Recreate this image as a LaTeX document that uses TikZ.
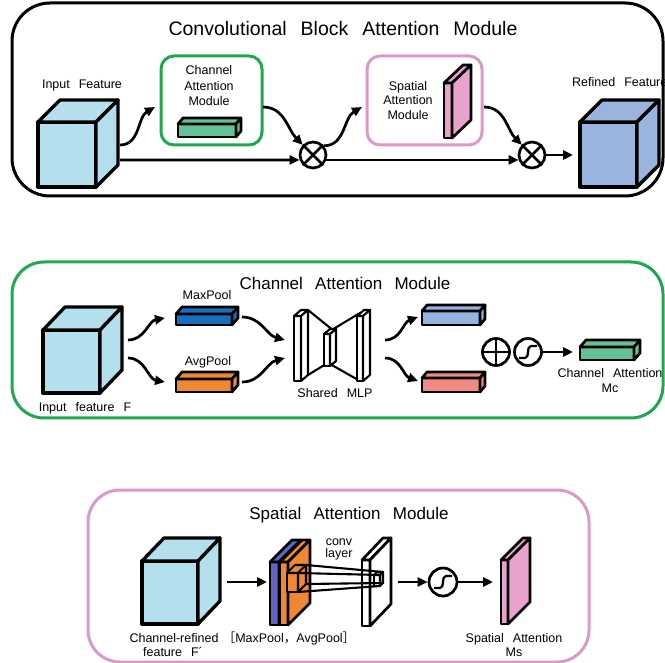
\documentclass[tikz,border=0pt]{standalone}
\usepackage{fontspec}
\setmainfont{Liberation Sans}
\newfontfamily\cjk{Noto Sans CJK SC}
\usetikzlibrary{arrows.meta}

\definecolor{cubecyan}{HTML}{B3E0EC}
\definecolor{refblue}{HTML}{99B5DE}
\definecolor{camgreen}{HTML}{1FA84F}
\definecolor{bargreen}{HTML}{64C396}
\definecolor{sampink}{HTML}{DE98C8}
\definecolor{pinkfill}{HTML}{E8A2CC}
\definecolor{maxblue}{HTML}{1670BE}
\definecolor{avgorange}{HTML}{EE8833}
\definecolor{lightblue}{HTML}{93B4DF}
\definecolor{salmon}{HTML}{EF8A85}
\definecolor{slate}{HTML}{6262C2}

% wide word gap used in all labels
\newcommand\ws{\hspace{0.72em}}

% box in cabinet view: front face (x1,y1)-(x2,y2), depth offset (dx,dy)
\newcommand\drawprism[8][]{%
  \filldraw[fill=#2,#1] (#3,#4) rectangle (#5,#6);
  \filldraw[fill=#2,#1] (#3,#4) -- ({#3+#7},{#4-#8}) -- ({#5+#7},{#4-#8}) -- (#5,#4) -- cycle;
  \filldraw[fill=#2,#1] (#5,#4) -- ({#5+#7},{#4-#8}) -- ({#5+#7},{#6-#8}) -- (#5,#6) -- cycle;
}
% sigmoid glyph inside a circle node
\newcommand\sigmark[1]{%
  \draw[line width=2.3pt] ([shift={(-9,6)}]#1.center) -- ([shift={(-3,6)}]#1.center)
    .. controls ([shift={(2,6)}]#1.center) and ([shift={(-2,-6)}]#1.center) ..
    ([shift={(3,-6)}]#1.center) -- ([shift={(9,-6)}]#1.center);}
\newcommand\timesmark[1]{%
  \draw[line width=2.6pt] (#1.45) -- (#1.225) (#1.135) -- (#1.315);}
\newcommand\plusmark[1]{%
  \draw[line width=2.6pt] (#1.north) -- (#1.south) (#1.west) -- (#1.east);}

\tikzset{
  lbl/.style={font=\fontsize{12.5}{15}\selectfont, inner sep=0, anchor=base},
  ttl/.style={font=\fontsize{17}{20}\selectfont, inner sep=0, anchor=base},
  bigttl/.style={font=\fontsize{19.5}{23}\selectfont, inner sep=0, anchor=base},
  arr/.style={line width=2.7pt, -{Triangle[length=10pt,width=9pt]}},
  opnode/.style={circle, draw, line width=2.7pt, minimum size=26pt, inner sep=0},
  panel/.style={line width=3pt, rounded corners=34pt},
  modbox/.style={line width=3pt, rounded corners=13pt},
  cubeline/.style={line width=3.3pt},
  barline/.style={line width=2.7pt},
  thinline/.style={line width=2.1pt},
}

\begin{document}
\begin{tikzpicture}[x=1pt, y=-1pt, line join=round]
\useasboundingbox (0,0) rectangle (665,663);

%% ---------------- Convolutional Block Attention Module ----------------
\draw[panel, rounded corners=38pt] (12,3) rectangle (663,196);
\node[bigttl] (cbamTitle) at (343,36) {Convolutional\ws Block\ws Attention\ws Module};

\drawprism[cubeline]{cubecyan}{38}{122}{96}{187}{22}{22}
\node[lbl] (inLbl) at (82,89) {Input\ws Feature};

\draw[modbox, draw=camgreen] (161,56) rectangle (262,145);
\node[lbl] (camL1) at (209,75) {Channel};
\node[lbl] (camL2) at (209,91) {Attention};
\node[lbl] (camL3) at (209,106) {Module};
\drawprism[barline]{bargreen}{178}{124}{236}{137}{5}{6}

\draw[modbox, draw=sampink] (367,56) rectangle (482,145);
\node[lbl] (samL1) at (408,91) {Spatial};
\node[lbl] (samL2) at (408,105) {Attention};
\node[lbl] (samL3) at (408,120) {Module};
\drawprism[barline]{pinkfill}{444}{83}{452}{138}{19}{18}

\drawprism[cubeline]{refblue}{580}{122}{637}{187}{22}{22}
\node[lbl, anchor=base west] (refLbl) at (572,87) {Refined\ws Feature};

\node[opnode] (m1) at (313,155) {};
\timesmark{m1}
\node[opnode] (m2) at (532,155) {};
\timesmark{m2}

\coordinate (inA) at (120,145);
\coordinate (inB) at (120,160);
\coordinate (camIn) at (155,107);
\coordinate (camOut) at (263,107);
\coordinate (samIn) at (362,107);
\coordinate (samOut) at (484,107);
\coordinate (refIn) at (573,155);

\draw[arr] (inA) to[out=0,in=210] (camIn);
\draw[arr] (inB) -- (m1.200);
\draw[arr] (camOut) to[out=0,in=135] (m1.135);
\draw[arr] (m1.40) to[out=0,in=210] (samIn);
\draw[arr] (m1.340) -- (m2.200);
\draw[arr] (samOut) to[out=0,in=135] (m2.135);
\draw[arr] (m2.east) -- (refIn);

%% ---------------- Channel Attention Module ----------------
\draw[panel, draw=camgreen, rounded corners=32pt] (12,262) rectangle (663,418);
\node[ttl] (camTitle) at (345,290) {Channel\ws Attention\ws Module};

\drawprism[cubeline]{cubecyan}{43}{330}{100}{393}{22}{23}
\node[lbl] (fLbl) at (85,412) {Input\ws feature\ws F};

\drawprism[barline]{maxblue}{176}{314}{232}{325}{6}{7}
\node[lbl] (maxLbl) at (207,300) {MaxPool};
\drawprism[barline]{avgorange}{176}{379}{232}{392}{6}{7}
\node[lbl] (avgLbl) at (208,366) {AvgPool};

% shared MLP: three plates joined by trapezoids
\draw[thinline] (308,310) -- (334,331) (308,375) -- (326,364);
\draw[thinline] (330,331) -- (360,313) (330,364) -- (360,381);
\drawprism[thinline]{white}{294}{316}{301}{381}{7}{6}
\drawprism[thinline]{white}{324}{334}{330}{366}{6}{5}
\drawprism[thinline]{white}{357}{316}{363}{381}{7}{6}
\node[lbl] (mlpLbl) at (335,398) {Shared\ws MLP};

\drawprism[barline]{lightblue}{422}{311}{480}{325}{5}{6}
\drawprism[barline]{salmon}{422}{378}{480}{392}{5}{6}

\node[opnode, minimum size=27pt] (pl) at (496,352) {};
\plusmark{pl}
\node[opnode, minimum size=27pt] (sg1) at (528,352) {};
\sigmark{sg1}

\drawprism[barline]{bargreen}{580}{347}{634}{360}{6}{7}
\node[lbl] (mcL1) at (610,378) {Channel\ws Attention};
\node[lbl] (mcL2) at (610,393) {Mc};

\coordinate (fUp) at (128,340);
\coordinate (fDn) at (128,358);
\coordinate (maxIn) at (165,318);
\coordinate (avgIn) at (165,382);
\coordinate (maxOut) at (242,317);
\coordinate (avgOut) at (242,382);
\coordinate (mlpInUp) at (285,340);
\coordinate (mlpInDn) at (285,358);
\coordinate (mlpUp) at (385,340);
\coordinate (mlpDn) at (385,358);
\coordinate (blueIn) at (418,317);
\coordinate (redIn) at (418,381);
\coordinate (mcIn) at (573,352);

\draw[arr] (fUp) to[out=0,in=190] (maxIn);
\draw[arr] (fDn) to[out=0,in=170] (avgIn);
\draw[arr] (maxOut) to[out=0,in=165] (mlpInUp);
\draw[arr] (avgOut) to[out=0,in=195] (mlpInDn);
\draw[arr] (mlpUp) to[out=0,in=200] (blueIn);
\draw[arr] (mlpDn) to[out=0,in=160] (redIn);
\draw[arr] (sg1.east) -- (mcIn);

%% ---------------- Spatial Attention Module ----------------
\draw[panel, draw=sampink, rounded corners=32pt] (88,490) rectangle (589,662);
\node[ttl] (samTitle) at (349,519) {Spatial\ws Attention\ws Module};

\drawprism[cubeline]{cubecyan}{142}{561}{198}{624}{22}{23}
\node[lbl] (crL1) at (174,642) {Channel-refined};
\node[lbl] (crL2) at (173,656) {feature\ws F´};

\drawprism[barline]{slate}{270}{562}{279}{625}{22}{22}
\drawprism[barline]{avgorange}{280}{562}{288}{625}{22}{22}
\drawprism[thinline]{avgorange}{287}{573}{298}{592}{8}{8}
\node[lbl] (poolLbl) at (289,642) {{\cjk ［}MaxPool{\cjk ，}AvgPool{\cjk ］}};

\drawprism[barline]{white}{362}{560}{370}{626}{21}{22}
\drawprism[thinline]{white}{374}{575}{380}{586}{3}{3}
\coordinate (kA) at (306,565);
\coordinate (kB) at (298,573);
\coordinate (kC) at (306,584);
\coordinate (kD) at (298,592);
\coordinate (cA) at (383,572);
\coordinate (cB) at (380,575);
\coordinate (cC) at (383,583);
\coordinate (cD) at (380,586);
\draw[thinline] (kA) -- (cA) (kB) -- (cB) (kC) -- (cC) (kD) -- (cD);
\node[lbl] (convL1) at (339,545) {conv};
\node[lbl] (convL2) at (339,558) {layer};

\node[opnode, minimum size=28pt] (sg2) at (443,582) {};
\sigmark{sg2}

\drawprism[barline]{pinkfill}{501}{560}{508}{624}{22}{22}
\node[lbl] (msL1) at (514,642) {Spatial\ws Attention};
\node[lbl] (msL2) at (514,656) {Ms};

\coordinate (crOut) at (227,582);
\coordinate (poolIn) at (267,582);
\coordinate (convOut) at (398,582);
\coordinate (msIn) at (493,582);

\draw[arr] (crOut) -- (poolIn);
\draw[arr] (convOut) -- (sg2.west);
\draw[arr] (sg2.east) -- (msIn);
\end{tikzpicture}
\end{document}
